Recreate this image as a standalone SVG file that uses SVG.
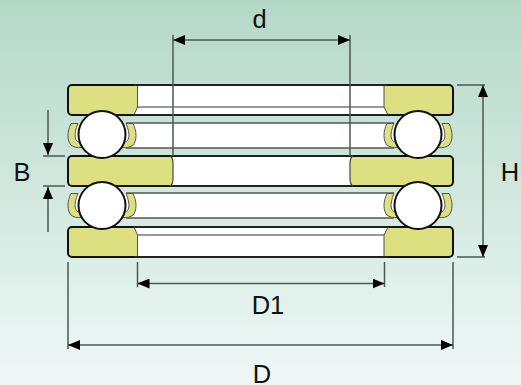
<svg xmlns="http://www.w3.org/2000/svg" width="521" height="385" viewBox="0 0 521 385">
<style>
.o{fill:#dce080;stroke:#111;stroke-width:2}
.w{fill:#fff;stroke:none}
.e{fill:none;stroke:#222;stroke-width:2}
.t{fill:none;stroke:#555;stroke-width:1.500}
.b{fill:#fff;stroke:#111;stroke-width:2}
.dim{fill:none;stroke:#4a5a52;stroke-width:1.500}
.c{fill:#dce080;stroke:#555;stroke-width:1}
text{font-family:"Liberation Sans",Arial,sans-serif;font-size:25.500px;fill:#111;text-anchor:middle}
</style>
<defs>
<linearGradient id="bg" x1="0" y1="0" x2="0" y2="1"><stop offset="0" stop-color="#b4d8c7"/><stop offset="1" stop-color="#eff8f7"/></linearGradient>
<marker id="a" markerWidth="12" markerHeight="10" refX="12" refY="5" orient="auto-start-reverse" markerUnits="userSpaceOnUse" viewBox="0 0 12 10"><path d="M0 0L12 5L0 10Z" fill="#000"/></marker>
<g id="cupL">
<path class="w" d="M76 124L88 124L88 146L80 146C73 140 73 131 76 124Z"/>
<path class="c" d="M71 123.500C67 131 67 141 71 145C73 147 77 148 82 147.500L79.500 142C75 142 73 135 78 123.500Z"/>
</g>
</defs>
<rect width="521" height="385" fill="url(#bg)"/>
<g id="top-plate">
<rect class="o" x="68" y="85" width="385" height="30" rx="4"/>
<path class="w" d="M137.500 86H384V107L387 114H134L137.500 107Z"/>
<path d="M137 107H384" fill="none" stroke="#777" stroke-width="1.500"/>
<path d="M137.500 85V107L134 115M384 85V107L388 115" fill="none" stroke="#555" stroke-width="1"/>
<path class="e" d="M134 115H388M134 85H388"/>
</g>
<g id="upper-cage">
<rect class="w" x="126" y="123" width="268" height="25"/>
<path class="t" d="M126 123H394M126 148H394"/>
</g>
<g id="middle-plate">
<rect class="o" x="68" y="156" width="385" height="30" rx="4"/>
<path class="w" d="M173 157H350V185H173Z"/>
<path class="e" d="M170 156H353M170 186H353"/>
<path d="M170 156Q173 158 173 163V179Q173 184 170 186M353 156Q350 158 350 163V179Q350 184 353 186" fill="none" stroke="#444" stroke-width="1.200"/>
</g>
<g id="lower-cage">
<rect class="w" x="126" y="193" width="268" height="25"/>
<path class="t" d="M126 193H394M126 218H394"/>
</g>
<g id="bottom-plate">
<rect class="o" x="68" y="227" width="385" height="30" rx="4"/>
<path class="w" d="M134 228H387L384 235V256H137.500V235Z"/>
<path d="M137 235H384" fill="none" stroke="#777" stroke-width="1.500"/>
<path d="M137.500 257V235L134 227M384 257V235L388 227" fill="none" stroke="#555" stroke-width="1"/>
<path class="e" d="M134 227H388M134 257H388"/>
</g>
<g id="cages">
<use href="#cupL"/>
<use href="#cupL" transform="translate(204 0) scale(-1 1)"/>
<use href="#cupL" transform="translate(316 0)"/>
<use href="#cupL" transform="translate(520 0) scale(-1 1)"/>
<use href="#cupL" transform="translate(0 70)"/>
<use href="#cupL" transform="translate(204 70) scale(-1 1)"/>
<use href="#cupL" transform="translate(316 70)"/>
<use href="#cupL" transform="translate(520 70) scale(-1 1)"/>
</g>
<g id="balls">
<circle class="b" cx="102" cy="134.500" r="23.500"/>
<circle class="b" cx="418" cy="134.500" r="23.500"/>
<circle class="b" cx="102" cy="205.500" r="23.500"/>
<circle class="b" cx="418" cy="205.500" r="23.500"/>
</g>
<g id="connectors">
<path class="dim" d="M173 35V156M350 35V156"/>
<path class="dim" d="M173 40H350" marker-start="url(#a)" marker-end="url(#a)"/>
<path class="dim" d="M457 85H485M457 257H485"/>
<path class="dim" d="M483 85V257" marker-start="url(#a)" marker-end="url(#a)"/>
<path class="dim" d="M43 156H65M43 186H65"/>
<path class="dim" d="M48 110V155" marker-end="url(#a)"/>
<path class="dim" d="M48 232V187" marker-end="url(#a)"/>
<path class="dim" d="M137.500 262V287M384.500 262V287"/>
<path class="dim" d="M137.500 283.500H384.500" marker-start="url(#a)" marker-end="url(#a)"/>
<path class="dim" d="M68 262V349M453 262V349"/>
<path class="dim" d="M68 345H453" marker-start="url(#a)" marker-end="url(#a)"/>
</g>
<g id="labels">
<text x="259.500" y="28">d</text>
<text x="510" y="181">H</text>
<text x="22" y="181">B</text>
<text x="268" y="314">D1</text>
<text x="262" y="383">D</text>
</g>
</svg>
